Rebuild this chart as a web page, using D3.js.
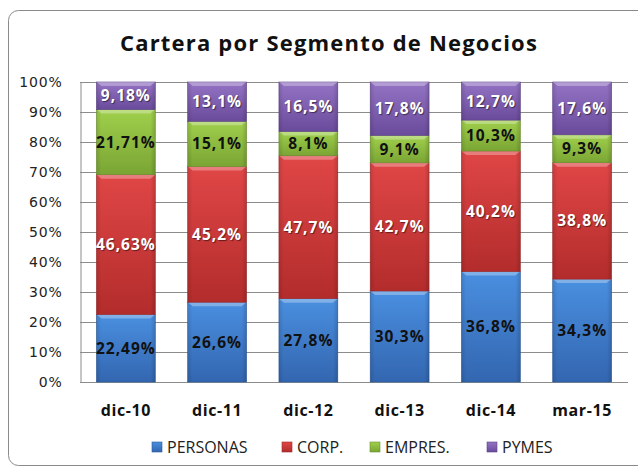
<!DOCTYPE html>
<html>
<head>
<meta charset="utf-8">
<script src="https://cdn.jsdelivr.net/npm/d3@7"></script>
<style>
  body { margin: 0; background: #fff; }
  svg { display: block; font-family: "Open Sans", sans-serif; }
</style>
</head>
<body>
<div id="chart"></div>
<script>
// data
const periodos = ['dic-10', 'dic-11', 'dic-12', 'dic-13', 'dic-14', 'mar-15'];
const personas = [22.49, 26.6, 27.8, 30.3, 36.8, 34.3];
const corp     = [46.63, 45.2, 47.7, 42.7, 40.2, 38.8];
const empres   = [21.71, 15.1, 8.1, 9.1, 10.3, 9.3];
const pymes    = [9.18, 13.1, 16.5, 17.8, 12.7, 17.6];
const etiquetas = {
  personas: ['22,49%', '26,6%', '27,8%', '30,3%', '36,8%', '34,3%'],
  corp:     ['46,63%', '45,2%', '47,7%', '42,7%', '40,2%', '38,8%'],
  empres:   ['21,71%', '15,1%', '8,1%', '9,1%', '10,3%', '9,3%'],
  pymes:    ['9,18%', '13,1%', '16,5%', '17,8%', '12,7%', '17,6%']
};
const yTicks = [0, 0.1, 0.2, 0.3, 0.4, 0.5, 0.6, 0.7, 0.8, 0.9, 1];

const series = [
  { key: 'personas', name: 'PERSONAS', top: '#4a8fe0', bot: '#3366b0', edge: '#2d5a9c', txt: '#111' },
  { key: 'corp',     name: 'CORP.',    top: '#e04646', bot: '#b32c2c', edge: '#9e2a2a', txt: '#fff' },
  { key: 'empres',   name: 'EMPRES.',  top: '#a0cf4c', bot: '#7aa534', edge: '#6a8f2e', txt: '#111' },
  { key: 'pymes',    name: 'PYMES',    top: '#9473c4', bot: '#6a4b9b', edge: '#5c4288', txt: '#fff' }
];
const valores = { personas, corp, empres, pymes };

const W = 638, H = 468;

const svg = d3.select('#chart').append('svg').attr('width', W).attr('height', H);

// outer frame
svg.append('rect')
   .attr('x', 8.5).attr('y', 10.5).attr('width', 640).attr('height', 455)
   .attr('rx', 10).attr('fill', '#fff').attr('stroke', '#8a8a8a').attr('stroke-width', 1);

svg.append('text').text('Cartera por Segmento de Negocios')
   .attr('x', 329).attr('y', 51).attr('text-anchor', 'middle')
   .attr('font-size', 22).attr('font-weight', 'bold').attr('letter-spacing', 1.2)
   .attr('fill', '#111');

const x = d3.scaleBand().domain(periodos).range([80, 628]).paddingInner(0.355).paddingOuter(0.18);
const y = d3.scaleLinear().domain([0, 1]).range([382, 82]);

// gradients
const defs = svg.append('defs');
series.forEach(s => {
  const g = defs.append('linearGradient').attr('id', 'g-' + s.key)
                .attr('x1', 0).attr('y1', 0).attr('x2', 0).attr('y2', 1);
  g.append('stop').attr('offset', '0%').attr('stop-color', s.top);
  g.append('stop').attr('offset', '100%').attr('stop-color', s.bot);
  const h = defs.append('linearGradient').attr('id', 'h-' + s.key)
                .attr('x1', 0).attr('y1', 0).attr('x2', 1).attr('y2', 0);
  h.append('stop').attr('offset', '0%').attr('stop-color', '#000').attr('stop-opacity', 0.12);
  h.append('stop').attr('offset', '8%').attr('stop-color', '#000').attr('stop-opacity', 0);
  h.append('stop').attr('offset', '92%').attr('stop-color', '#000').attr('stop-opacity', 0);
  h.append('stop').attr('offset', '100%').attr('stop-color', '#000').attr('stop-opacity', 0.15);
});

// gridlines
svg.append('g').selectAll('line').data(yTicks).join('line')
   .attr('x1', 80).attr('x2', 628)
   .attr('y1', d => Math.round(y(d)) + 0.5).attr('y2', d => Math.round(y(d)) + 0.5)
   .attr('stroke', '#8c8c8c');

const yAxis = svg.append('g').attr('transform', 'translate(80.5,0)')
   .call(d3.axisLeft(y).tickValues(yTicks).tickFormat(d3.format('.0%')).tickSize(0).tickPadding(18));
yAxis.select('.domain').attr('stroke', '#8c8c8c');
yAxis.selectAll('text').attr('font-size', 14).attr('fill', '#222')
     .attr('font-family', 'DejaVu Sans, sans-serif').attr('letter-spacing', 0.8);

// stacked 100%
const tabla = periodos.map((p, i) => {
  const o = { periodo: p };
  series.forEach(s => o[s.key] = valores[s.key][i]);
  return o;
});
const stack = d3.stack().keys(series.map(s => s.key)).offset(d3.stackOffsetExpand);
const capas = stack(tabla);

capas.forEach((capa, si) => {
  const s = series[si];
  const seg = svg.append('g').selectAll('g').data(capa).join('g');
  seg.append('rect')
     .attr('x', d => x(d.data.periodo)).attr('width', x.bandwidth())
     .attr('y', d => y(d[1])).attr('height', d => y(d[0]) - y(d[1]))
     .attr('fill', 'url(#g-' + s.key + ')').attr('stroke', s.edge).attr('stroke-width', 0.6);
  seg.append('rect')
     .attr('x', d => x(d.data.periodo)).attr('width', x.bandwidth())
     .attr('y', d => y(d[1])).attr('height', d => y(d[0]) - y(d[1]))
     .attr('fill', 'url(#h-' + s.key + ')');
  // bevel highlight on top
  seg.append('path')
     .attr('d', d => {
       const x0 = x(d.data.periodo), x1 = x0 + x.bandwidth(), t = y(d[1]);
       return `M${x0},${t}L${x1},${t}L${x1 - 5},${t + 4}L${x0 + 5},${t + 4}Z`;
     })
     .attr('fill', '#fff').attr('fill-opacity', 0.3);
});

// labels
capas.forEach((capa, si) => {
  const s = series[si];
  svg.append('g').selectAll('text').data(capa).join('text')
     .attr('x', d => x(d.data.periodo) + x.bandwidth() / 2)
     .attr('y', d => (y(d[0]) + y(d[1])) / 2 + 5.5)
     .attr('text-anchor', 'middle')
     .attr('font-size', 15.5).attr('font-weight', 'bold').attr('letter-spacing', 1)
     .attr('fill', s.txt)
     .attr('style', s.txt === '#fff' ? 'text-shadow: 1px 1px 1px rgba(0,0,0,0.5)' : null)
     .text((d, i) => etiquetas[s.key][i]);
});

// category labels
svg.append('g').selectAll('text').data(periodos).join('text')
   .attr('x', d => x(d) + x.bandwidth() / 2).attr('y', 416)
   .attr('text-anchor', 'middle').attr('font-size', 16).attr('font-weight', 'bold')
   .attr('letter-spacing', 0.6).attr('fill', '#111').text(d => d);

// legend
const legX = [152, 282, 370, 487];
const leg = svg.append('g').selectAll('g').data(series).join('g')
   .attr('transform', (d, i) => `translate(${legX[i]},447)`);
leg.append('rect').attr('x', 0).attr('y', -5).attr('width', 10).attr('height', 10)
   .attr('fill', d => 'url(#g-' + d.key + ')').attr('stroke', d => d.edge).attr('stroke-width', 0.6);
leg.append('text').attr('x', 15).attr('y', 6).attr('font-size', 16)
   .attr('fill', '#222').text(d => d.name);
</script>
</body>
</html>
